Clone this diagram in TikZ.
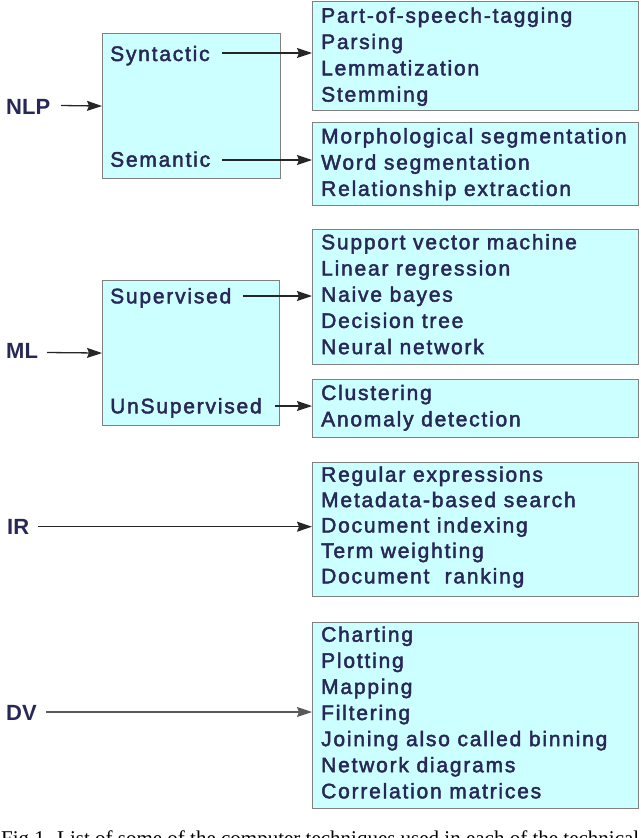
\documentclass[tikz,border=0pt]{standalone}
\usepackage{fontspec}
\setmainfont{Liberation Sans}
\newfontfamily\itemfont{Liberation Sans}[LetterSpace=8.5,FakeBold=2.2]
\newfontfamily\capfont{Liberation Serif}
\usetikzlibrary{arrows.meta}
\definecolor{txt}{RGB}{40,40,88}
\definecolor{boxfill}{RGB}{204,255,255}
\definecolor{boxline}{RGB}{128,128,128}
\tikzset{
  box/.style={draw=boxline, fill=boxfill, line width=1.1pt, anchor=north west, inner sep=0pt},
  itemtxt/.style={anchor=base west, inner sep=0pt, text=txt, font=\itemfont\fontsize{21}{25}\selectfont},
  lab/.style={anchor=base west, inner sep=0pt, text=txt, font=\fontsize{22}{26}\selectfont\bfseries},
  arr/.style={draw=black!85, line width=1.3pt, -{Stealth[length=15pt,width=10pt,inset=2pt]}},
}
\begin{document}
\begin{tikzpicture}[x=1pt,y=-1pt]
\useasboundingbox (0,0) rectangle (640,838);

% boxes
\node[box, minimum width=178pt, minimum height=145pt] (nlpbox) at (102,33) {};
\node[box, minimum width=326pt, minimum height=109pt] (b1) at (312,1) {};
\node[box, minimum width=326pt, minimum height=83pt] (b2) at (312,122) {};
\node[box, minimum width=177pt, minimum height=145pt] (mlbox) at (102,280) {};
\node[box, minimum width=326pt, minimum height=135pt] (b3) at (312,229) {};
\node[box, minimum width=326pt, minimum height=58pt] (b4) at (312,379) {};
\node[box, minimum width=326pt, minimum height=134pt] (b5) at (312,462) {};
\node[box, minimum width=326pt, minimum height=186pt] (b6) at (312,622) {};

% main labels
\node[lab] (nlp) at (6,114) {NLP};
\node[lab] (ml) at (6,358.3) {ML};
\node[lab] (ir) at (7,534.3) {IR};
\node[lab] (dv) at (6,720) {DV};

% sub labels
\node[itemtxt] (syn) at (110,61) {Syntactic};
\node[itemtxt] (sem) at (110,166.7) {Semantic};
\node[itemtxt] (sup) at (110,303.3) {Supervised};
\node[itemtxt] (uns) at (110,413.3) {UnSupervised};

% item lists
\foreach \t [count=\i from 0] in {Part-of-speech-tagging,Parsing,Lemmatization,Stemming}
  \node[itemtxt] (ta-\i) at (321,22.7+26.3*\i) {\t};
\foreach \t [count=\i from 0] in {Morphological segmentation,Word segmentation,Relationship extraction}
  \node[itemtxt] (tb-\i) at (321,143.3+26.3*\i) {\t};
\foreach \t [count=\i from 0] in {Support vector machine,Linear regression,Naive bayes,Decision tree,Neural network}
  \node[itemtxt] (tc-\i) at (321,249.3+26.2*\i) {\t};
\foreach \t [count=\i from 0] in {Clustering,Anomaly detection}
  \node[itemtxt] (td-\i) at (321,400+26.3*\i) {\t};
\foreach \t [count=\i from 0] in {Regular expressions,Metadata-based search,Document indexing,Term weighting,Document~~ranking}
  \node[itemtxt] (te-\i) at (321,481.7+25.4*\i) {\t};
\foreach \t [count=\i from 0] in {Charting,Plotting,Mapping,Filtering,Joining also called binning,Network diagrams,Correlation matrices}
  \node[itemtxt] (tf-\i) at (321,641.7+26.1*\i) {\t};

% connectors
\coordinate (a0) at (61,105.5);
\draw[arr] (a0) -- (nlpbox.west);
\coordinate (a1) at (222,53);
\draw[arr] (a1) -- (a1 -| b1.west);
\coordinate (a2) at (222,160);
\draw[arr] (a2) -- (a2 -| b2.west);
\coordinate (a3) at (47,352.5);
\draw[arr] (a3) -- (mlbox.west);
\coordinate (a4) at (243,296);
\draw[arr] (a4) -- (a4 -| b3.west);
\coordinate (a5) at (275,406);
\draw[arr] (a5) -- (a5 -| b4.west);
\coordinate (a6) at (38,526.7);
\draw[arr] (a6) -- (a6 -| b5.west);
\coordinate (a7) at (46,712);
\draw[arr, draw=black!65] (a7) -- (a7 -| b6.west);

% caption (cut off at the bottom edge, as in the reference)
\node[anchor=base west, inner sep=0pt, font=\capfont\fontsize{21}{25}\selectfont] (cap) at (1,845)
  {Fig 1. List of some of the computer techniques used in each of the technical};
\end{tikzpicture}
\end{document}
